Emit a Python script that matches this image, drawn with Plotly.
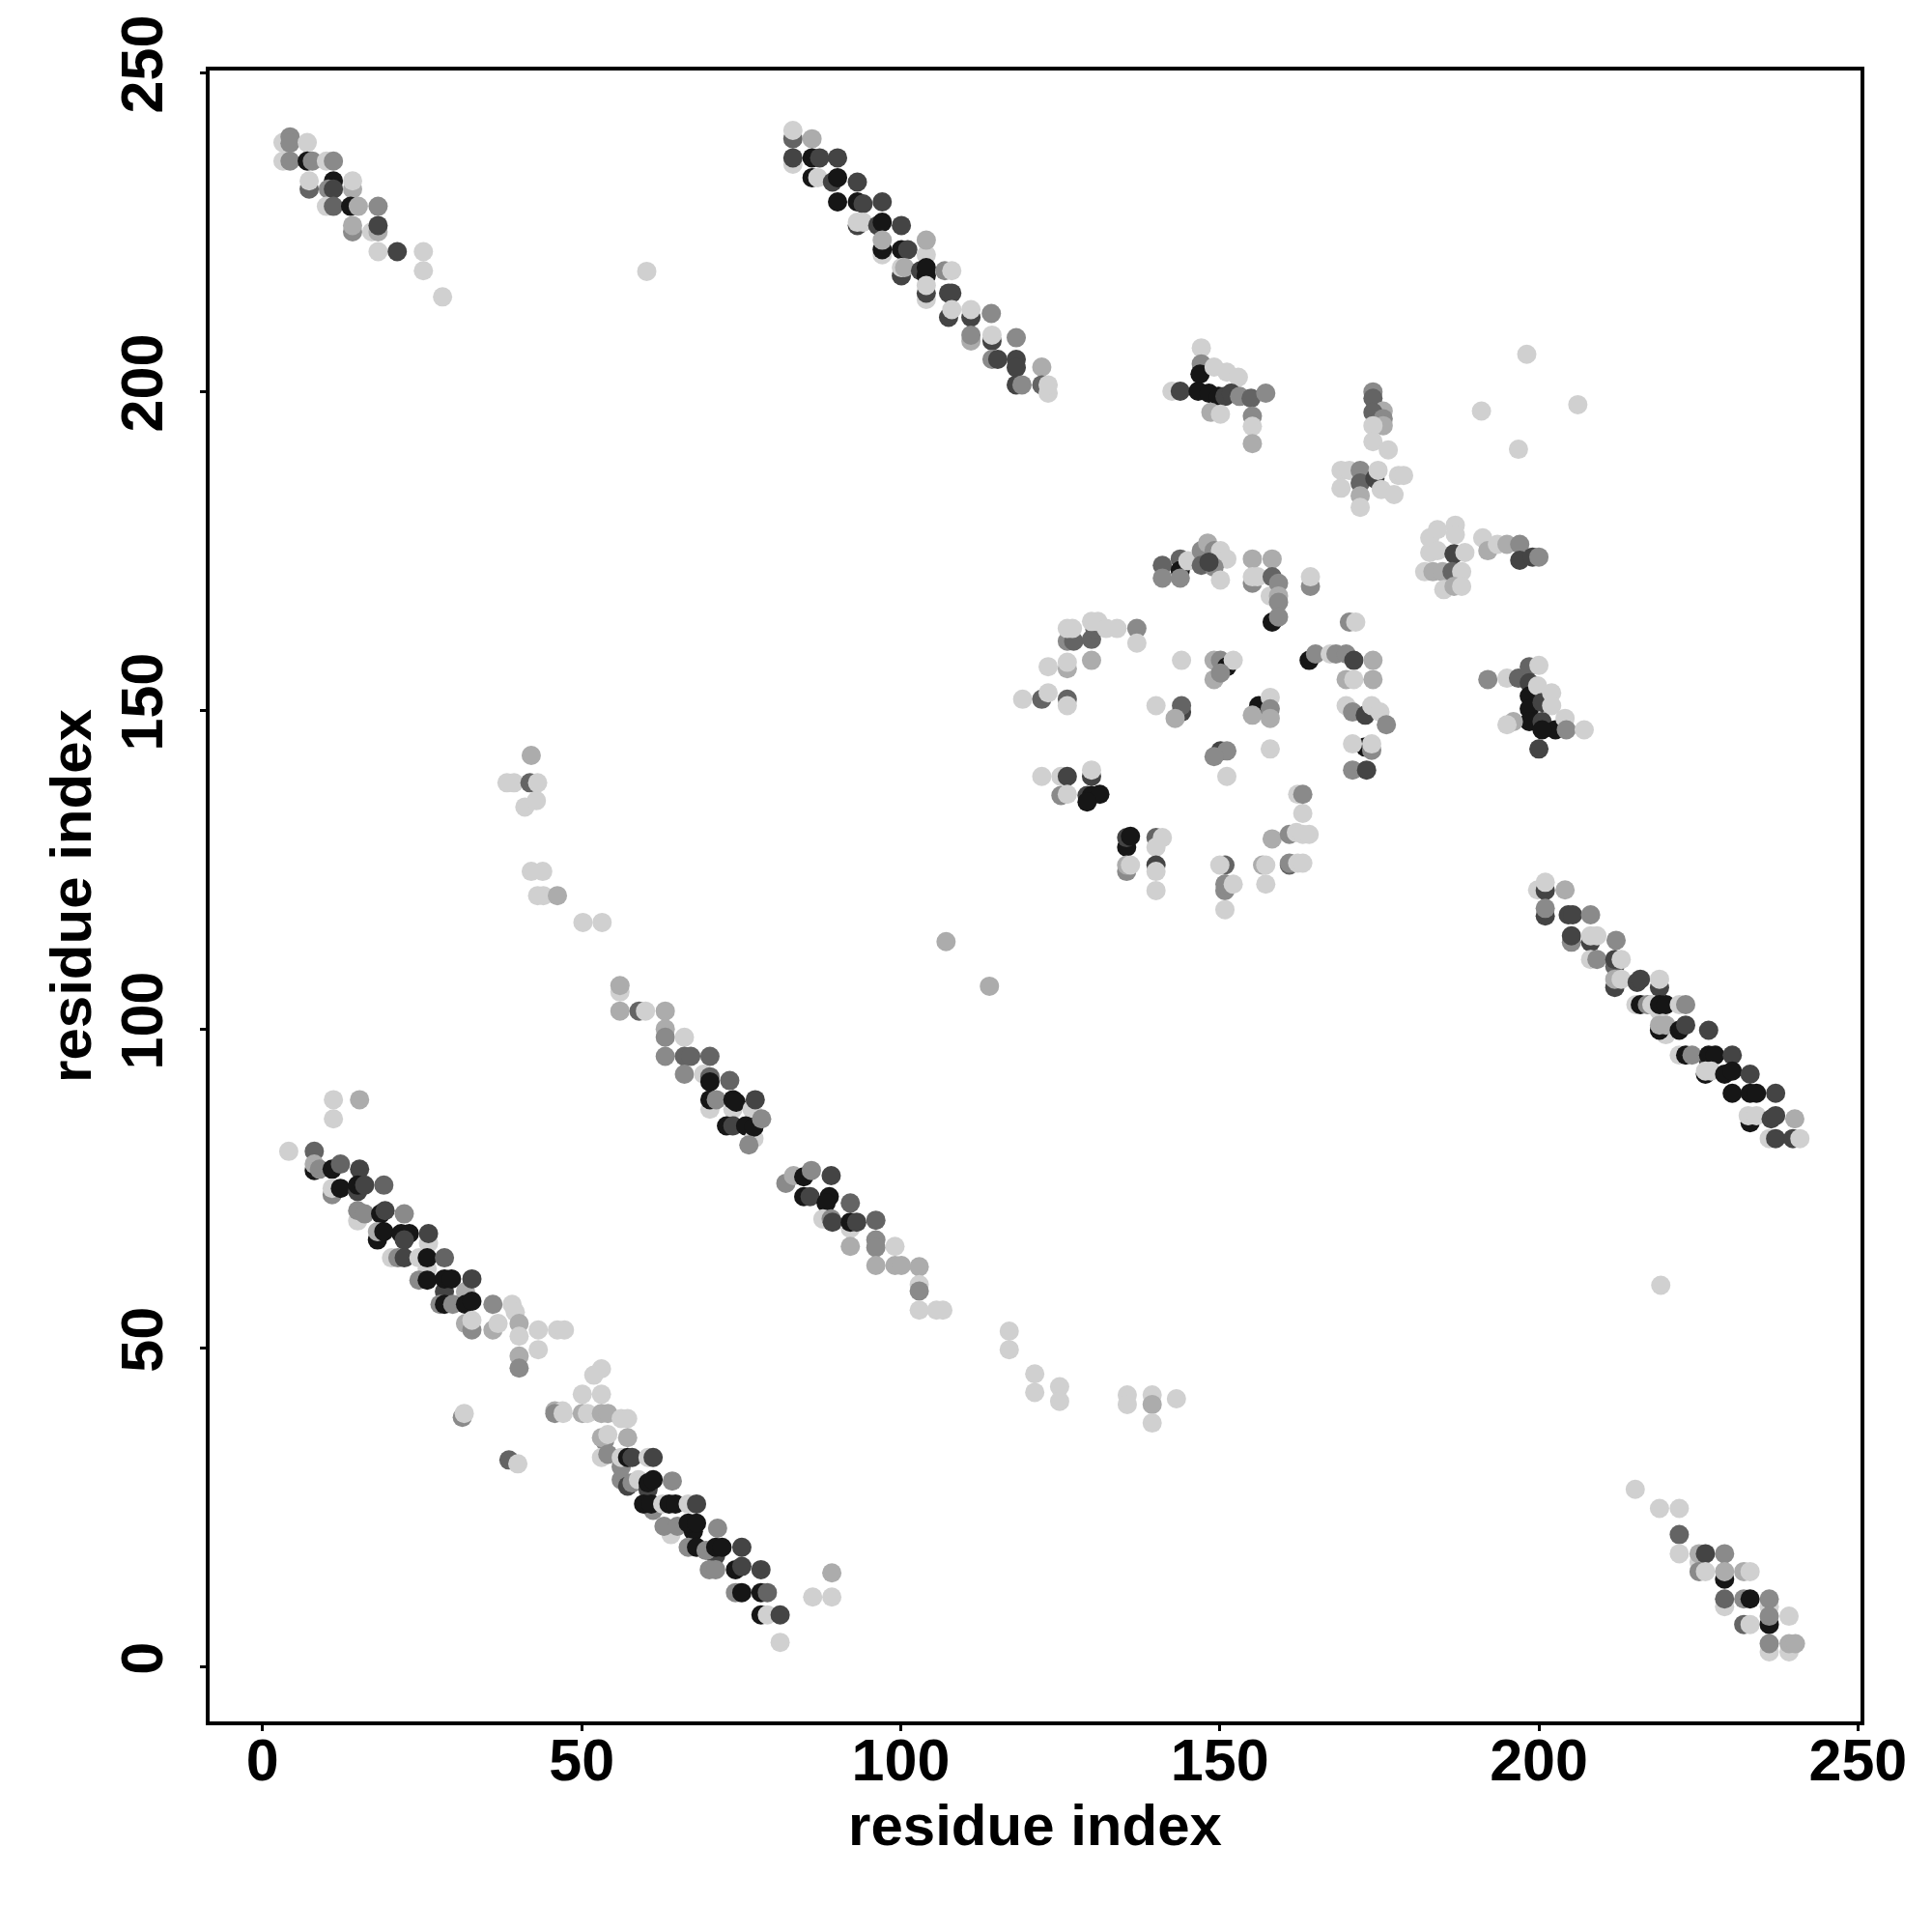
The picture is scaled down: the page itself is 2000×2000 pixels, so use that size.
import plotly.graph_objects as go

# grey shades (0 = black, 255 = white)
K, D, MD, M, ML, L = 22, 68, 100, 138, 172, 208

tick_vals = [0, 50, 100, 150, 200, 250]
tick_text = ["0", "50", "100", "150", "200", "250"]

# (x residue, y residue, grey level)
band_top_left = [
    (3.2,239.1,L),(4.3,240.0,M),(4.3,239.0,M),(7.0,239.1,L),
    (3.2,236.2,L),(4.3,236.2,M),(7.0,236.2,K),(7.8,236.2,M),(10.0,236.2,L),(11.1,236.2,M),
    (7.3,231.8,MD),(7.3,233.1,L),(11.1,233.1,K),(10.3,231.8,M),(11.1,231.8,D),(14.1,231.8,ML),(14.1,233.1,L),
    (10.0,229.1,L),(11.1,229.1,MD),(13.8,229.1,K),(15.0,229.1,ML),(18.1,229.1,M),
    (14.1,225.1,M),(14.1,226.1,ML),(17.1,225.1,L),(18.1,225.1,ML),(18.1,226.1,D),
    (18.1,222.0,L),(21.1,222.0,D),(25.2,222.0,L),
    (25.2,219.0,L),(28.2,214.9,L),
]

band_top_mid = [
    (83.1,239.7,MD),(83.1,241.0,L),(86.1,239.7,ML),
    (83.1,235.7,L),(83.1,236.7,D),(86.1,236.7,K),(87.3,236.7,D),(90.1,236.7,D),
    (86.1,233.6,K),(87.0,233.6,L),(89.3,232.9,D),(90.1,233.6,K),(93.2,232.9,D),
    (90.1,229.8,K),(93.2,229.8,K),(94.1,229.5,D),(97.1,229.8,D),
    (93.2,226.1,D),(93.2,226.6,L),(94.1,226.6,L),(96.4,226.1,D),(97.1,226.6,K),(100.1,226.1,D),
    (97.1,221.5,L),(97.1,222.3,K),(97.1,223.8,ML),(100.1,222.3,K),(101.1,222.3,D),(104.0,221.5,L),(104.0,223.8,ML),
    (100.1,218.2,D),(100.1,219.5,L),(100.6,219.5,ML),(103.1,219.0,D),(104.0,218.2,K),(104.0,219.5,K),(106.9,219.0,M),(108.0,219.0,L),
    (104.0,214.5,L),(104.0,215.5,D),(104.0,216.7,L),(107.5,215.5,D),(108.0,215.5,D),
    (107.5,211.7,D),(108.0,212.9,L),(111.0,211.7,D),(111.0,212.9,L),(114.2,212.3,M),
    (111.0,208.0,ML),(111.0,208.9,M),(114.3,208.0,D),(114.3,208.9,L),(118.1,208.5,M),
    (114.3,205.1,M),(115.2,205.1,D),(118.1,205.1,D),(118.1,203.8,D),(122.1,203.9,ML),
    (118.1,201.1,D),(119.0,201.1,M),(122.1,201.1,MD),(123.1,199.8,L),(123.1,201.1,L),
]

cluster_148_200 = [
    (147.1,206.9,L),(147.1,204.4,M),(146.9,202.8,K),(142.5,200.1,L),(143.8,200.1,D),(146.6,200.1,K),
    (149.1,203.9,L),(151.1,203.1,L),(152.9,202.3,L),
    (148.3,199.8,K),(149.8,199.3,K),(150.8,199.3,D),(151.8,199.8,D),(153.1,199.3,M),(154.9,199.0,MD),(157.2,199.8,M),
    (148.6,196.8,ML),(150.1,196.5,L),(155.1,196.2,M),(155.1,194.6,L),(155.1,191.9,ML),
]

cluster_174_190 = [
    (174.0,200.0,M),(174.0,199.0,MD),(175.6,197.0,ML),(174.0,196.8,MD),(175.6,195.8,M),(175.6,194.7,ML),
    (174.0,194.7,L),(174.0,192.2,L),(176.4,190.9,L),
    (169.0,187.7,L),(169.0,184.9,L),(170.3,187.7,L),(172.0,187.7,M),(172.0,185.7,MD),(172.0,183.7,ML),(172.0,181.9,L),
    (174.3,186.4,D),(174.8,187.7,L),(175.3,184.7,L),(177.3,183.9,L),(178.0,186.9,L),(178.8,186.9,L),
]

cluster_190_175 = [
    (182.9,177.1,L),(184.1,178.4,L),(186.9,179.1,L),(186.9,177.6,L),(182.9,174.8,L),(184.1,175.1,L),
    (186.7,174.6,D),(188.4,174.8,L),(191.2,177.1,L),(192.0,175.1,ML),(193.5,176.1,L),(195.0,176.1,ML),
    (197.0,176.1,M),(197.0,173.6,D),(199.0,174.1,D),(200.0,174.1,M),
    (182.1,171.8,L),(183.4,171.8,ML),(184.9,171.8,ML),(186.4,171.8,MD),(187.9,171.8,L),
    (185.1,169.0,L),(186.7,169.5,ML),(187.9,169.5,L),
]

cluster_200_150 = [
    (192.0,154.9,M),(195.0,155.1,L),(196.8,155.1,MD),(198.5,156.9,MD),(200.0,157.1,L),
    (198.5,154.4,D),(198.5,152.3,K),(198.5,150.3,K),(198.5,148.3,K),(199.8,153.9,L),(200.5,151.3,D),
    (202.0,152.8,L),(202.0,150.8,L),(200.5,148.3,D),(196.0,148.3,ML),(195.0,147.8,L),(202.6,147.0,K),
    (204.1,148.8,L),(204.3,147.0,M),(207.1,147.0,L),(200.0,144.0,D),(200.5,147.0,K),
]

band_right = [
    (199.8,121.9,L),(201.0,121.8,D),(201.0,123.1,L),(204.1,121.9,ML),
    (201.0,117.8,D),(201.0,119.0,M),(204.6,118.0,D),(205.3,118.0,D),(208.1,118.0,M),
    (205.1,113.7,M),(205.1,114.7,D),(208.1,113.7,D),(208.1,114.7,L),(209.1,114.7,L),(212.1,114.0,M),
    (208.1,111.0,L),(209.1,111.0,M),(211.9,109.9,MD),(211.9,111.0,D),(212.9,111.0,L),
    (211.9,106.6,D),(211.9,107.9,ML),(212.9,107.9,L),(215.4,107.4,D),(215.9,107.9,D),(218.9,106.6,D),(218.9,107.9,L),
    (218.9,102.9,L),(215.2,103.9,L),(215.9,103.9,K),(217.0,103.9,M),(217.7,103.9,L),(218.9,103.9,K),(219.9,103.9,K),(222.0,103.9,L),(223.0,103.9,M),
    (219.9,99.2,L),(218.9,99.9,K),(218.9,100.7,ML),(219.9,100.7,ML),(222.0,99.9,K),(223.0,100.7,D),(226.6,99.9,D),
    (226.6,95.0,D),(222.0,96.0,L),(223.0,96.0,K),(224.0,96.0,M),(226.6,96.0,K),(227.6,96.0,K),(230.3,96.0,D),
    (226.1,93.0,K),(226.1,93.5,L),(227.0,93.5,L),(229.1,93.0,K),(230.3,93.5,K),(233.1,93.0,D),
    (230.3,90.0,K),(233.1,90.0,K),(234.1,90.0,K),(237.1,90.0,D),
    (233.1,85.4,K),(232.8,86.5,L),(234.1,86.5,L),(236.4,86.0,D),(237.1,86.5,D),(240.1,86.0,ML),
    (236.1,82.9,L),(237.1,82.9,D),(239.8,82.9,D),(240.9,82.9,L),
]

band_low_left = [
    (11.1,89.0,L),(15.2,89.0,ML),(11.1,86.0,L),
    (4.1,80.9,L),(8.1,80.9,MD),(8.1,77.9,K),(8.1,78.9,ML),(8.9,78.1,M),(10.9,78.1,K),(12.2,78.9,MD),(15.2,78.1,D),
    (10.9,74.1,M),(10.9,75.1,L),(12.2,75.1,K),(14.9,74.6,D),(14.9,75.6,K),(16.0,75.6,D),(19.0,75.6,MD),
    (14.9,70.0,L),(14.9,71.6,M),(16.0,71.1,M),(18.5,71.1,K),(19.2,71.6,D),(22.2,71.1,M),
    (18.0,67.0,K),(18.0,68.3,ML),(19.0,68.3,K),(21.7,68.0,K),(23.0,68.0,K),(22.2,67.0,D),(26.0,66.5,L),(26.0,68.0,D),
    (20.2,64.2,L),(21.2,64.2,M),(22.2,64.2,D),(24.5,64.2,L),(25.8,62.5,L),(25.8,64.2,K),(28.5,64.2,MD),
    (24.5,60.7,M),(25.8,60.7,K),(28.5,58.9,D),(28.5,60.9,K),(29.6,60.9,K),(31.8,58.9,ML),(32.8,60.9,D),
    (27.8,56.9,M),(28.5,56.9,K),(29.8,56.9,M),(31.8,56.9,K),(32.8,57.4,K),(36.1,56.9,M),(39.1,56.9,L),(39.6,55.7,L),
    (31.8,53.9,ML),(32.8,52.9,M),(32.8,54.4,L),(36.1,52.9,ML),(36.9,53.9,L),(40.2,53.9,ML),(40.2,51.9,L),
    (43.2,52.9,L),(46.2,52.9,L),(47.3,52.9,L),(43.2,49.8,L),(40.2,48.8,ML),(40.2,46.9,M),
]

scatter_low_left = [
    (31.3,39.2,M),(31.6,39.8,L),(38.6,32.5,MD),(40.0,31.9,L),(45.8,40.2,ML),(47.0,40.2,L),
]

band_low_mid = [
    (53.1,46.8,L),(51.9,45.8,L),(50.1,42.8,L),(53.1,42.8,L),
    (45.8,39.8,M),(47.1,39.8,L),(50.1,39.8,ML),(50.9,39.8,L),(53.1,39.8,ML),(54.1,39.8,ML),(56.2,39.0,L),(57.2,39.0,L),
    (53.6,35.5,M),(53.1,36.0,ML),(54.1,36.5,L),(57.2,36.0,ML),
    (56.2,31.4,M),(53.1,32.9,L),(54.1,33.4,M),(56.2,32.9,L),(57.2,32.9,K),(57.9,32.9,D),(60.4,32.9,L),(61.2,32.9,D),
    (56.2,29.4,M),(57.2,28.4,D),(57.9,28.9,M),(58.9,29.4,L),(60.4,27.9,D),(60.4,28.9,K),(61.2,29.4,K),(64.2,29.2,M),
    (61.2,24.6,M),(59.7,25.6,K),(60.9,25.6,K),(62.7,25.6,L),(63.7,25.6,K),(64.7,25.6,K),(66.7,25.6,L),(68.0,25.6,D),
    (64.0,20.8,L),(62.9,22.1,M),(65.0,22.1,M),(67.5,21.3,K),(66.7,22.6,K),(68.0,22.6,K),(71.3,21.8,M),
    (71.0,17.5,D),(66.7,18.8,M),(68.0,18.8,K),(69.5,18.3,M),(71.0,18.8,K),(72.0,18.8,K),(75.1,18.8,D),
    (70.0,15.3,M),(71.0,15.3,M),(74.1,15.3,K),(75.1,15.8,D),(78.1,15.3,D),
    (74.1,11.7,M),(75.1,11.7,K),(78.1,11.7,K),(79.1,11.7,MD),
    (78.1,8.2,K),(79.1,8.2,L),(81.1,8.2,D),(81.1,3.9,L),
    (89.2,14.8,ML),(86.2,11.0,L),(89.2,11.0,L),
]

band_mid = [
    (56.0,105.9,L),(56.0,106.9,ML),
    (56.0,102.9,ML),(59.0,102.9,MD),(60.0,102.9,L),(63.1,102.9,ML),
    (63.1,100.1,ML),(63.1,98.8,M),(66.1,98.8,L),
    (63.1,95.8,M),(66.1,95.8,MD),(67.1,95.8,MD),(70.1,95.8,MD),
    (66.1,93.0,M),(69.1,93.0,L),(70.1,92.6,MD),(70.1,91.8,K),(73.2,92.0,MD),
    (70.1,87.5,L),(70.1,89.0,K),(71.1,89.0,M),(73.7,87.5,L),(73.7,89.0,K),(74.2,88.6,K),(76.7,87.5,L),(77.2,89.0,D),
    (72.7,84.9,K),(73.7,84.9,D),(75.7,84.9,K),(77.0,82.9,L),(77.0,84.7,K),(78.2,86.0,M),(76.2,81.9,M),
    (82.0,75.9,M),(83.2,77.1,ML),(84.8,76.9,K),(86.0,77.9,M),(89.1,77.1,D),
    (84.8,73.8,K),(85.8,73.8,D),(88.8,73.8,K),(88.3,72.8,K),
    (87.8,70.3,L),(89.1,70.3,M),(89.3,69.8,D),(92.1,72.8,MD),(92.1,68.8,L),(92.1,69.8,K),(93.1,69.8,D),(96.1,70.1,MD),
    (92.1,66.0,ML),(96.1,67.0,M),(96.1,65.8,M),(99.1,66.0,L),
    (96.1,63.0,ML),(99.1,63.0,ML),(100.1,63.0,ML),(102.9,62.8,ML),
    (102.9,60.0,L),(102.9,59.0,M),(102.9,56.0,L),(105.6,56.0,L),(106.6,56.0,L),
]

band_low_right = [
    (215.1,27.9,L),(218.9,24.9,L),(222.0,24.9,L),(222.0,20.8,MD),
    (222.0,17.8,L),(225.1,16.5,L),(225.1,17.8,ML),(226.1,17.8,D),(229.1,17.8,M),
    (225.1,15.0,M),(226.1,15.0,L),(229.1,13.8,K),(229.1,15.0,ML),(232.1,15.0,ML),(233.1,15.0,L),
    (229.1,9.5,L),(229.1,10.7,MD),(232.1,10.7,M),(233.1,10.7,K),(236.1,9.5,L),(236.1,10.7,M),
    (232.1,6.7,MD),(233.1,6.7,L),(236.1,6.7,K),(236.1,8.0,M),(239.2,8.0,L),
    (236.1,2.4,L),(236.1,3.7,M),(239.2,2.4,L),(239.2,3.7,ML),(240.2,3.7,ML),
]

isolated = [
    (219.1,59.9,L),(107.1,113.8,ML),(113.9,106.8,ML),(60.2,218.9,L),
    (191.0,197.0,L),(206.1,198.0,L),(196.8,191.0,L),(198.1,205.9,L),
    (117.0,52.7,L),(117.0,49.8,L),(121.0,46.0,L),(121.0,43.1,L),(124.9,44.0,L),(124.9,41.7,L),
    (135.5,42.7,L),(135.5,41.2,L),(139.4,42.7,L),(139.4,41.2,ML),(139.4,38.3,L),(143.2,42.1,L),
]

scatter_left_mid = [
    (42.1,143.0,ML),(38.3,138.7,L),(39.4,138.7,L),(41.9,138.7,MD),(43.1,138.7,L),(41.1,134.9,L),(42.9,135.9,L),
    (42.1,124.8,L),(43.9,124.8,L),(43.1,121.0,L),(44.0,121.0,L),(46.2,121.0,ML),(50.2,116.8,L),(53.2,116.8,L),
]

center_upper = [
    (141.0,172.8,MD),(141.0,170.8,M),(143.8,173.8,MD),(143.8,172.0,K),(143.8,170.8,M),(145.0,173.5,L),
    (147.1,175.1,M),(147.1,172.8,MD),(148.1,176.3,ML),(149.1,175.1,M),(150.1,175.1,L),(151.1,173.8,L),
    (149.1,172.5,M),(150.1,170.5,L),(148.3,173.3,D),
    (155.1,173.8,ML),(158.2,173.8,ML),(155.1,170.0,M),(155.1,171.0,L),(155.9,171.0,L),(157.9,168.0,L),
    (158.2,171.0,MD),(159.2,170.0,M),(159.2,168.0,ML),(159.2,167.0,M),(158.2,163.9,K),(159.2,164.7,M),
    (164.2,169.5,M),(164.2,171.0,L),(170.3,163.9,M),(171.3,163.9,L),
    (126.1,160.9,M),(127.1,160.9,MD),(126.1,162.9,L),(126.9,162.9,L),(129.9,161.2,MD),(130.4,162.9,MD),
    (129.9,164.0,L),(130.9,164.0,L),(132.2,162.9,L),(133.9,162.9,L),(137.0,162.9,M),(137.0,160.6,L),
    (123.1,156.9,L),(126.1,156.6,ML),(126.1,157.6,L),(129.9,157.9,ML),
]

center_middle = [
    (119.1,151.8,L),(122.1,151.8,MD),(123.1,152.8,L),(126.1,151.8,MD),(126.1,150.8,L),
    (140.0,150.8,L),(144.0,149.8,D),(144.0,150.8,MD),(143.0,148.8,ML),(144.0,157.9,L),
    (149.1,157.9,ML),(150.1,157.9,M),(151.1,156.9,K),(152.1,157.9,L),(149.1,154.9,ML),(150.1,155.9,M),
    (156.1,150.8,K),(157.9,152.1,L),(157.9,150.3,M),(157.9,148.8,ML),(155.1,149.3,ML),(157.9,144.0,L),
    (164.0,157.9,K),(165.0,158.9,M),(167.3,158.9,L),(168.2,158.9,M),(169.8,158.9,M),(171.0,157.9,D),
    (174.0,157.9,ML),(169.8,154.9,ML),(171.0,154.9,L),(174.0,154.9,ML),
    (169.8,150.8,L),(170.8,149.8,M),(172.8,149.3,D),(173.8,150.8,L),(175.1,149.8,L),(176.1,147.8,M),
    (172.8,144.3,K),(170.8,144.8,L),(173.8,143.8,M),(173.8,144.8,L),(170.8,140.7,M),(173.0,140.7,D),
    (150.1,143.7,D),(151.1,143.7,M),(149.1,142.8,M),(151.1,139.7,L),
]

center_lower = [
    (122.1,139.7,L),(125.1,139.7,L),(126.1,139.7,D),(129.9,139.7,D),(129.9,140.7,L),
    (125.1,136.7,M),(126.1,136.9,L),(129.2,136.7,D),(129.9,136.7,K),(131.2,136.9,K),(129.2,135.7,K),
    (135.4,128.6,K),(135.4,130.1,D),(136.0,130.3,K),(140.0,130.1,MD),(141.0,130.1,L),(140.0,128.6,L),
    (135.4,124.8,M),(135.4,125.8,ML),(136.0,125.8,L),(140.0,125.8,D),(140.0,124.8,L),(140.0,121.8,L),
    (150.8,125.8,MD),(150.0,125.8,L),(150.8,121.8,M),(150.8,122.8,M),(152.1,122.8,L),(150.8,118.8,L),
    (156.7,125.8,ML),(157.2,125.8,L),(157.2,122.8,L),(158.2,129.9,ML),(160.9,130.6,M),(162.0,130.9,L),
    (163.0,130.6,L),(164.0,130.6,L),(163.0,133.9,L),(162.2,136.9,L),(163.0,136.9,M),
    (160.9,125.8,MD),(160.9,126.1,M),(162.2,126.1,L),(163.0,126.1,L),
]

groups = [band_top_left, band_top_mid, cluster_148_200, cluster_174_190, cluster_190_175,
          cluster_200_150, band_right, band_low_left, scatter_low_left, band_low_mid,
          band_mid, band_low_right, isolated, scatter_left_mid,
          center_upper, center_middle, center_lower]

xs, ys, cols = [], [], []
for g in groups:
    for x, y, s in g:
        xs.append(x)
        ys.append(y)
        cols.append(f"rgb({s},{s},{s})")

fig = go.Figure(go.Scatter(
    x=xs, y=ys, mode="markers",
    marker=dict(size=20, color=cols, line=dict(width=0)),
    hoverinfo="x+y", showlegend=False,
))

font_bold = dict(family="Liberation Sans, Arial, sans-serif", size=61, color="black", weight="bold")
title_font = dict(family="Liberation Sans, Arial, sans-serif", size=60, color="black", weight="bold")

axis_common = dict(
    showgrid=False, zeroline=False,
    showline=True, linecolor="black", linewidth=4, mirror=True,
    ticks="outside", ticklen=6, tickwidth=3, tickcolor="black",
    tickvals=tick_vals, ticktext=tick_text,
    tickfont=font_bold,
)

fig.update_layout(
    width=2000, height=2000,
    paper_bgcolor="white", plot_bgcolor="white",
    margin=dict(l=209, r=82, t=65, b=226, autoexpand=False),
    xaxis=dict(range=[-8.3, 250.4], ticklabelstandoff=-22,
               title=dict(text="residue index", font=title_font, standoff=14), **axis_common),
    yaxis=dict(range=[-8.5, 250.4], tickangle=-90, ticklabelstandoff=15,
               title=dict(text="residue index", font=title_font, standoff=0), **axis_common),
)

fig.write_html("out.html")
